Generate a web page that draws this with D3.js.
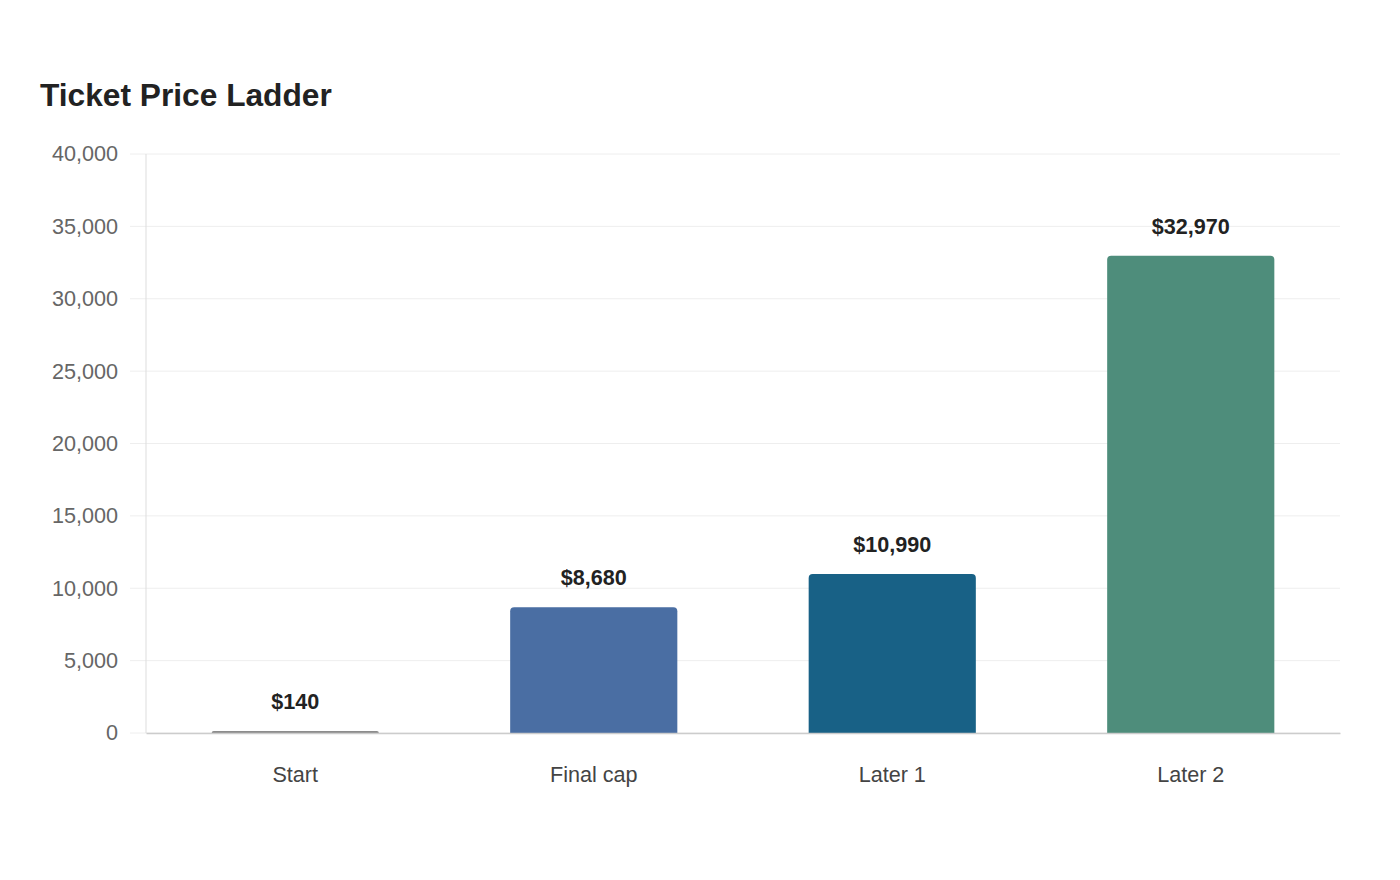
<!DOCTYPE html>
<html>
<head>
<meta charset="utf-8">
<script src="https://cdn.jsdelivr.net/npm/d3@7"></script>
<style>
  body { margin: 0; background: #fff; font-family: "Liberation Sans", Arial, sans-serif; }
</style>
</head>
<body>
<svg width="1400" height="880"></svg>
<script>
const categories = ['Start', 'Final cap', 'Later 1', 'Later 2'];
const prices = [140, 8680, 10990, 32970];
const barColors = ['#8c8c8c', '#4a6ea3', '#186186', '#4e8d7b'];
const yTicks = [0, 5000, 10000, 15000, 20000, 25000, 30000, 35000, 40000];

const svg = d3.select('svg');
const margin = {top: 154, right: 60, bottom: 147, left: 146};
const width = 1400 - margin.left - margin.right;
const height = 880 - margin.top - margin.bottom;
const fontFam = '"Liberation Sans", Arial, sans-serif';

svg.append('text')
  .attr('x', 40).attr('y', 106)
  .attr('font-size', 31.7).attr('font-weight', 'bold')
  .attr('fill', '#222')
  .text('Ticket Price Ladder');

const g = svg.append('g').attr('transform', `translate(${margin.left},${margin.top})`);

const x = d3.scaleBand().domain(categories).range([0, width]).paddingInner(0.44).paddingOuter(0.22);
const y = d3.scaleLinear().domain([0, 40000]).range([height, 0]);

// grid lines (extend a bit left of the axis, like tick marks)
g.append('g').selectAll('line').data(yTicks).enter().append('line')
  .attr('x1', -16).attr('x2', width)
  .attr('y1', d => y(d)).attr('y2', d => y(d))
  .attr('stroke', '#eeeeee');

// y labels
const yAxis = g.append('g')
  .call(d3.axisLeft(y).tickValues(yTicks).tickSize(0).tickFormat(d3.format(',')).tickPadding(28));
yAxis.select('.domain').remove();
yAxis.selectAll('.tick text').attr('font-size', 21.6).attr('fill', '#666').attr('font-family', fontFam);

// left axis line
g.append('line').attr('x1', 0).attr('x2', 0).attr('y1', 0).attr('y2', height).attr('stroke', '#dddddd');

// bars with rounded top corners
const r = 4;
function barPath(x0, y0, w, h) {
  const rr = Math.min(r, h);
  return `M${x0},${y0 + h}V${y0 + rr}Q${x0},${y0} ${x0 + rr},${y0}H${x0 + w - rr}Q${x0 + w},${y0} ${x0 + w},${y0 + rr}V${y0 + h}Z`;
}
g.selectAll('.bar').data(prices).enter().append('path')
  .attr('class', 'bar')
  .attr('fill', (d, i) => barColors[i])
  .attr('d', (d, i) => barPath(x(categories[i]), y(d), x.bandwidth(), height - y(d)));

g.selectAll('.val').data(prices).enter().append('text')
  .attr('x', (d, i) => x(categories[i]) + x.bandwidth() / 2)
  .attr('y', d => y(d) - 22)
  .attr('text-anchor', 'middle')
  .attr('font-size', 21.6).attr('font-weight', 'bold').attr('fill', '#222')
  .attr('font-family', fontFam)
  .text(d => '$' + d3.format(',')(d));

// x axis
const xAxis = g.append('g').attr('transform', `translate(0,${height})`)
  .call(d3.axisBottom(x).tickSize(0).tickPadding(34));
xAxis.select('.domain').attr('stroke', '#cccccc').attr('stroke-width', 1.5);
xAxis.selectAll('.tick text').attr('font-size', 21.6).attr('fill', '#444').attr('font-family', fontFam);
</script>
</body>
</html>
